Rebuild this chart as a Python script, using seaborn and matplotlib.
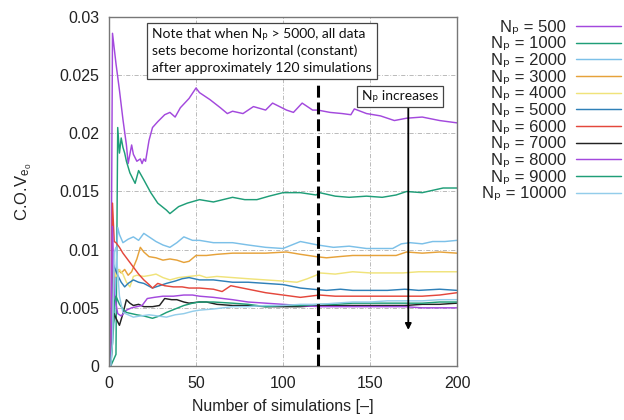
import matplotlib
matplotlib.use("Agg")
import matplotlib.pyplot as plt
import seaborn as sns
import pandas as pd

# ---------------- data ----------------
labels = ["500", "1000", "2000", "3000", "4000", "5000", "6000", "7000", "8000", "9000", "10000"]

s500_x = [1, 2, 4, 6, 8, 10, 11, 13, 14, 16, 18, 19, 20, 21, 23, 25, 28, 32, 35, 38, 41, 46, 50, 52, 58, 64, 68, 71, 77, 83,
          90, 94, 98, 102, 106, 111, 117, 120, 127, 134, 139, 141, 148, 156, 164, 171, 180, 190, 200]
s500_y = [0, 0.0286, 0.026, 0.0237, 0.0212, 0.019, 0.0174, 0.019, 0.0182, 0.0176,
          0.0178, 0.0174, 0.0178, 0.0176, 0.0194, 0.0205, 0.021, 0.0216, 0.0218, 0.0214,
          0.0222, 0.023, 0.0239, 0.0235, 0.0229, 0.0222, 0.0217, 0.0219, 0.0217, 0.0223,
          0.022, 0.0226, 0.0223, 0.022, 0.0218, 0.0226, 0.022, 0.022, 0.0218, 0.0217,
          0.0216, 0.0221, 0.0217, 0.0215, 0.0211, 0.0213, 0.0214, 0.0211, 0.0209]

s1000_x = [1, 4, 5, 6, 7, 8, 9, 10, 12, 15, 17, 20, 24, 28, 33, 35, 40, 45, 52, 60,
           71, 78, 85, 92, 100, 110, 119, 121, 130, 138, 148, 157, 165, 171, 180, 192, 200]
s1000_y = [0, 0.001, 0.0205, 0.0183, 0.0196, 0.0188, 0.0183, 0.0176, 0.0166, 0.0157,
           0.0168, 0.016, 0.0149, 0.014, 0.0134, 0.0131, 0.0137, 0.014, 0.0143, 0.0141,
           0.0145, 0.0143, 0.0143, 0.0146, 0.0149, 0.0149, 0.0147, 0.0149, 0.0146, 0.0145,
           0.0146, 0.0145, 0.0147, 0.015, 0.0149, 0.0153, 0.0153]

s2000_x = [1, 3, 5, 6, 8, 11, 14, 17, 20, 24, 27, 31, 35, 39, 43, 48, 52, 60, 71, 80,
           90, 100, 110, 120, 129, 138, 148, 156, 163, 168, 173, 180, 186, 193, 200]
s2000_y = [0, 0.004, 0.0119, 0.0113, 0.0106, 0.0109, 0.0111, 0.0108, 0.0114, 0.011,
           0.0107, 0.0104, 0.0102, 0.0106, 0.0111, 0.0108, 0.0108, 0.0106, 0.0106, 0.0104,
           0.0102, 0.0101, 0.0107, 0.0104, 0.0102, 0.0103, 0.0101, 0.0101, 0.0101, 0.0105,
           0.0106, 0.0105, 0.0107, 0.0107, 0.0108]

s3000_x = [1, 2, 3, 5, 7, 9, 11, 13, 16, 18, 20, 23, 27, 31, 35, 39, 43, 46, 50, 56,
           62, 71, 80, 90, 102, 110, 119, 125, 132, 140, 150, 165, 171, 180, 190, 200]
s3000_y = [0, 0.003, 0.0075, 0.0083, 0.008, 0.0083, 0.0078, 0.0081, 0.0092, 0.0102,
           0.0098, 0.0094, 0.0093, 0.0091, 0.0092, 0.0091, 0.0089, 0.009, 0.0095, 0.0095,
           0.0096, 0.0097, 0.0097, 0.0097, 0.0098, 0.0096, 0.0094, 0.0093, 0.0094, 0.0095,
           0.0095, 0.0095, 0.0098, 0.0097, 0.0098, 0.0097]

s4000_x = [1, 2, 3, 4, 6, 8, 10, 12, 14, 16, 20, 24, 27, 31, 35, 40, 46, 52, 56, 62,
           71, 80, 90, 100, 108, 114, 119, 121, 130, 140, 150, 160, 169, 178, 188, 200]
s4000_y = [0, 0.006, 0.0082, 0.0077, 0.0083, 0.0079, 0.0072, 0.0068, 0.0077, 0.0078,
           0.0077, 0.0078, 0.0079, 0.0076, 0.0074, 0.0076, 0.0077, 0.0078, 0.0076, 0.0077,
           0.0076, 0.0075, 0.0074, 0.0073, 0.0072, 0.0075, 0.0078, 0.008, 0.0079, 0.0081,
           0.008, 0.008, 0.008, 0.0081, 0.0081, 0.0081]

s5000_x = [1, 2, 3, 5, 7, 9, 11, 14, 17, 20, 25, 29, 33, 38, 42, 46, 52, 60, 71, 80,
           90, 100, 110, 117, 125, 133, 140, 150, 160, 170, 178, 190, 200]
s5000_y = [0, 0.009, 0.0085, 0.0078, 0.0072, 0.0068, 0.0071, 0.0074, 0.0072, 0.0071,
           0.0067, 0.0069, 0.0071, 0.0073, 0.0075, 0.0076, 0.0074, 0.0074, 0.0072, 0.0072,
           0.0071, 0.007, 0.0067, 0.0066, 0.0065, 0.0066, 0.0065, 0.0065, 0.0065, 0.0066,
           0.0065, 0.0066, 0.0065]

s6000_x = [1, 2, 3, 4, 6, 8, 10, 12, 14, 17, 20, 23, 25, 28, 32, 37, 42, 46, 52, 60,
           65, 70, 80, 90, 100, 110, 121, 130, 140, 150, 160, 170, 180, 190, 200]
s6000_y = [0, 0.014, 0.0107, 0.0106, 0.0102, 0.0097, 0.0093, 0.0089, 0.0085, 0.0079,
           0.0074, 0.007, 0.0067, 0.0071, 0.0069, 0.0068, 0.0068, 0.0067, 0.0067, 0.0066,
           0.0064, 0.0069, 0.0066, 0.0063, 0.0061, 0.0059, 0.0061, 0.006, 0.006, 0.006,
           0.006, 0.006, 0.006, 0.0061, 0.0063]

s7000_x = [1, 2, 3, 4, 6, 8, 10, 12, 14, 17, 20, 25, 29, 32, 36, 39, 43, 46, 52, 56,
           62, 71, 80, 90, 100, 110, 121, 130, 140, 150, 160, 170, 180, 190, 200]
s7000_y = [0, 0.003, 0.0045, 0.0041, 0.0035, 0.0045, 0.0057, 0.0054, 0.0052, 0.0053,
           0.0051, 0.0051, 0.0052, 0.0058, 0.0057, 0.0057, 0.0055, 0.0054, 0.0055, 0.0055,
           0.0053, 0.0052, 0.0052, 0.0051, 0.0051, 0.0051, 0.0052, 0.0052, 0.0052, 0.0052,
           0.0052, 0.0052, 0.0053, 0.0053, 0.0054]

s8000_x = [1, 2, 3, 5, 7, 10, 13, 16, 19, 22, 26, 31, 37, 43, 48, 52, 60, 71, 80, 90,
           100, 110, 121, 130, 140, 150, 160, 170, 180, 190, 200]
s8000_y = [0, 0.012, 0.0062, 0.0045, 0.0043, 0.0048, 0.005, 0.0051, 0.0052, 0.0058,
           0.0059, 0.006, 0.006, 0.0061, 0.0061, 0.006, 0.0059, 0.0057, 0.0055, 0.0054,
           0.0053, 0.0052, 0.0051, 0.0051, 0.0051, 0.0051, 0.0051, 0.0051, 0.005, 0.005,
           0.005]

s9000_x = [1, 2, 3, 4, 6, 8, 10, 13, 16, 20, 25, 29, 33, 38, 43, 48, 52, 60, 71, 80,
           90, 100, 110, 121, 130, 140, 150, 160, 170, 180, 190, 200]
s9000_y = [0, 0.002, 0.0055, 0.006, 0.0053, 0.0049, 0.0046, 0.0045, 0.0044, 0.0043,
           0.0041, 0.0043, 0.0046, 0.0049, 0.0052, 0.0054, 0.0055, 0.0055, 0.0054, 0.0053,
           0.0051, 0.0052, 0.0052, 0.0053, 0.0053, 0.0054, 0.0054, 0.0054, 0.0054, 0.0054,
           0.0055, 0.0055]

s10000_x = [1, 2, 3, 4, 6, 8, 11, 14, 18, 23, 28, 33, 38, 43, 48, 52, 60, 71, 80, 90,
            100, 110, 121, 130, 140, 150, 160, 170, 180, 190, 200]
s10000_y = [0, 0.002, 0.0098, 0.0102, 0.006, 0.0046, 0.0044, 0.0042, 0.0043, 0.0044,
            0.0043, 0.0042, 0.0044, 0.0045, 0.0047, 0.0048, 0.0049, 0.0051, 0.0051, 0.0052,
            0.0052, 0.0053, 0.0053, 0.0054, 0.0055, 0.0055, 0.0056, 0.0056, 0.0056, 0.0057,
            0.0057]

x_ticks = [0, 50, 100, 150, 200]
y_ticks = [0, 0.005, 0.01, 0.015, 0.02, 0.025, 0.03]
y_ticklabels = ["0", "0.005", "0.01", "0.015", "0.02", "0.025", "0.03"]

threshold_sim = 120
arrow_sim = 172

colors = ["#a349dd", "#1f9e78", "#7cc0e8", "#e6a23a", "#f0e37a", "#2f80b8",
          "#e4473c", "#222222", "#a349dd", "#1f9e78", "#93cdea"]

series = [(s500_x, s500_y), (s1000_x, s1000_y), (s2000_x, s2000_y), (s3000_x, s3000_y),
          (s4000_x, s4000_y), (s5000_x, s5000_y), (s6000_x, s6000_y), (s7000_x, s7000_y),
          (s8000_x, s8000_y), (s9000_x, s9000_y), (s10000_x, s10000_y)]

frames = []
for lab, (xs, ys) in zip(labels, series):
    frames.append(pd.DataFrame({"sim": xs, "cov": ys, "Np": lab}))
df = pd.concat(frames, ignore_index=True)

# ---------------- style ----------------
sns.set_theme(style="white")
plt.rcParams["font.family"] = ["Liberation Sans", "DejaVu Sans"]
plt.rcParams["mathtext.fontset"] = "custom"
plt.rcParams["mathtext.rm"] = "Liberation Sans"
plt.rcParams["mathtext.it"] = "Liberation Sans:italic"

fig = plt.figure(figsize=(6.24, 4.20), dpi=100)
ax = fig.add_axes([0.1747, 0.1286, 0.5577, 0.8309])

sns.lineplot(data=df, x="sim", y="cov", hue="Np", hue_order=labels,
             palette=dict(zip(labels, colors)), estimator=None, sort=True,
             linewidth=1.05, ax=ax, legend=True)

ax.set_xlim(0, 200)
ax.set_ylim(0, 0.03)
ax.set_xticks(x_ticks)
ax.set_xticklabels([str(t) for t in x_ticks])
ax.set_yticks(y_ticks)
ax.set_yticklabels(y_ticklabels)
ax.tick_params(direction="in", length=4, width=0.8, colors="#888888",
               labelcolor="#222222", labelsize=11.5, pad=7)
for sp in ax.spines.values():
    sp.set_color("#777777")
    sp.set_linewidth(1.0)
ax.grid(True, color="#b0b0b0", linestyle=(0, (5, 2, 1, 2)), linewidth=0.6)
ax.set_axisbelow(True)

ax.set_xlabel("Number of simulations [\u2013]", fontsize=11.5, color="#222222", labelpad=6)
ax.set_ylabel(r"C.O.V$\mathregular{_{e_0}}$", fontsize=12, color="#222222", labelpad=18)

# legend outside, right (subscript p as a Unicode glyph so rows stay compact)
handles, _ = ax.get_legend_handles_labels()
leg_labels = ["N\u209a = " + l for l in labels]
ax.legend(handles[-len(labels):], leg_labels, loc="upper right",
          bbox_to_anchor=(0.995, 0.953), bbox_transform=fig.transFigure,
          frameon=False, markerfirst=False, fontsize=12, handlelength=2.7,
          handletextpad=0.6, labelspacing=0.1, borderpad=0, borderaxespad=0)

# threshold dashed line
ax.vlines(threshold_sim, 0, 0.0242, colors="black", linestyles=(0, (3.9, 1.6)), linewidth=2.2, zorder=5)

# note box
note_font = ["Lato", "DejaVu Sans"]
ax.text(87.8, 0.02708,
        "Note that when N\u209a > 5000, all data\nsets become horizontal (constant)\nafter approximately 120 simulations",
        ha="center", va="center", multialignment="left", fontsize=10, family=note_font,
        color="#111111", linespacing=1.45, zorder=6,
        bbox=dict(boxstyle="square,pad=0.35", fc="white", ec="#444444", lw=0.9))

# arrow + box
ax.annotate("", xy=(arrow_sim, 0.0031), xytext=(arrow_sim, 0.0222),
            arrowprops=dict(arrowstyle="-|>", color="black", lw=1.3, mutation_scale=9,
                            shrinkA=0, shrinkB=0), zorder=6)
ax.text(167.2, 0.02317, "N\u209a increases", ha="center", va="center",
        fontsize=10, family=note_font, color="#111111", zorder=6,
        bbox=dict(boxstyle="square,pad=0.35", fc="white", ec="#444444", lw=0.9))

fig.savefig("out.png", dpi=100)
